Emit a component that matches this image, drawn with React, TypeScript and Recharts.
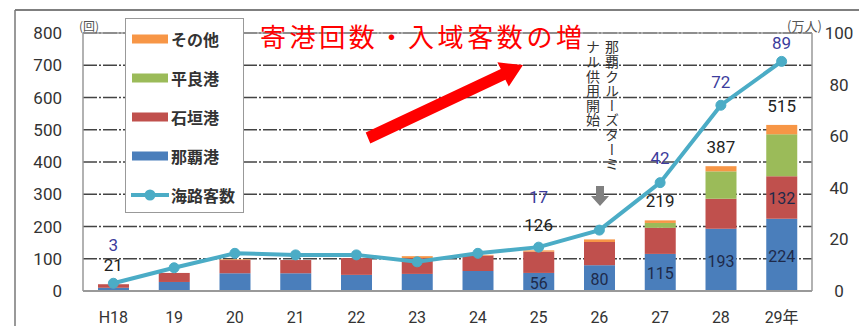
import {
  ComposedChart,
  Bar,
  Line,
  XAxis,
  YAxis,
  CartesianGrid,
  Legend,
  LabelList,
  ReferenceLine,
} from "recharts";

// 寄港回数 (回) by port, 海路客数 (万人)
const YEARS = ["H18", "19", "20", "21", "22", "23", "24", "25", "26", "27", "28", "29年"];
const NAHA = [10, 28, 55, 55, 50, 53, 62, 56, 80, 115, 193, 224];
const ISHIGAKI = [11, 28, 41, 41, 52, 49, 48, 66, 72, 81, 93, 132];
const HIRARA = [0, 0, 0, 0, 0, 0, 0, 0, 0, 15, 85, 130];
const OTHER = [0, 0, 2, 0, 0, 6, 2, 4, 8, 8, 16, 29];
const PASSENGERS = [3, 9, 14.6, 14, 14, 11.3, 14.6, 17, 23.6, 42, 72, 89];

// which values get a printed label
const TOTAL_LABELS = [21, null, null, null, null, null, null, 126, null, 219, 387, 515];
const PASSENGER_LABELS = [3, null, null, null, null, null, null, 17, null, 42, 72, 89];
const NAHA_LABELS = [null, null, null, null, null, null, null, 56, 80, 115, 193, 224];
const ISHIGAKI_LABELS = [null, null, null, null, null, null, null, null, null, null, null, 132];
const HIRARA_LABELS = [null, null, null, null, null, null, null, null, null, null, null, 130];

const LEFT_TICKS = [0, 100, 200, 300, 400, 500, 600, 700, 800];
const RIGHT_TICKS = [0, 20, 40, 60, 80, 100];

const C = {
  naha: "#4a7ebb",
  ishigaki: "#c0504d",
  hirara: "#9bbb59",
  other: "#f79646",
  line: "#4bacc6",
};

const data = YEARS.map((year, i) => ({
  year,
  naha: NAHA[i],
  ishigaki: ISHIGAKI[i],
  hirara: HIRARA[i],
  other: OTHER[i],
  total: NAHA[i] + ISHIGAKI[i] + HIRARA[i] + OTHER[i],
  passengers: PASSENGERS[i],
}));

const LEGEND = [
  { label: "その他", color: C.other, type: "bar" },
  { label: "平良港", color: C.hirara, type: "bar" },
  { label: "石垣港", color: C.ishigaki, type: "bar" },
  { label: "那覇港", color: C.naha, type: "bar" },
  { label: "海路客数", color: C.line, type: "line" },
];

const NUM_FONT = "Roboto, 'Noto Sans CJK JP', sans-serif";
const JP_FONT = "'Noto Sans CJK JP', sans-serif";

// label nudges so they don't collide with each other
const TOTAL_DY: Record<number, number> = { 7: 25 };
const PASS_DY: Record<number, number> = { 0: 38, 7: 50, 9: 25, 10: 23, 11: 18 };

function totalLabel(props: any) {
  const { x, y, index } = props;
  const v = TOTAL_LABELS[index];
  if (v == null) return null;
  const dy = TOTAL_DY[index] ?? 19;
  return (
    <text x={x} y={y - dy} dy="0.355em" textAnchor="middle" fontSize={17} fill="#222" fontFamily={NUM_FONT}>
      {v}
    </text>
  );
}

function passLabel(props: any) {
  const { x, y, index } = props;
  const v = PASSENGER_LABELS[index];
  if (v == null) return null;
  return (
    <text x={x} y={y - (PASS_DY[index] ?? 20)} dy="0.355em" textAnchor="middle" fontSize={17} fill="#3c3c9c" fontFamily={NUM_FONT}>
      {v}
    </text>
  );
}

function insideLabel(labels: (number | null)[]) {
  return (props: any) => {
    const { x, y, width, height, index } = props;
    const v = labels[index];
    if (v == null) return null;
    return (
      <text x={x + width / 2} y={y + height / 2 + 1} dy="0.355em" textAnchor="middle" fontSize={16} fill="#1e2a4a" fontFamily={NUM_FONT}>
        {v}
      </text>
    );
  };
}

function RightTick(props: any) {
  const { x, y, payload } = props;
  return (
    <text x={x + 27} y={y} dy="0.355em" textAnchor="middle" fontSize={17} fill="#333" fontFamily={NUM_FONT}>
      {payload.value}
    </text>
  );
}

function LegendBox() {
  return (
    <div
      style={{
        width: 119,
        height: 195,
        border: "1.5px solid #999",
        background: "#fff",
        boxSizing: "border-box",
      }}
    >
      {LEGEND.map((item) => (
        <div key={item.label} style={{ display: "flex", alignItems: "center", height: 39, paddingLeft: 5 }}>
          <svg width={38} height={14} style={{ flex: "none" }}>
            {item.type === "bar" ? (
              <rect x={1} y={2.5} width={36} height={9} fill={item.color} />
            ) : (
              <g>
                <line x1={0} y1={7} x2={38} y2={7} stroke={item.color} strokeWidth={4} />
                <circle cx={19} cy={7} r={5.5} fill={item.color} />
              </g>
            )}
          </svg>
          <span style={{ fontFamily: JP_FONT, fontSize: 16, fontWeight: 700, color: "#333", marginLeft: 2, whiteSpace: "nowrap" }}>
            {item.label}
          </span>
        </div>
      ))}
    </div>
  );
}

function Overlay() {
  return (
    <svg width={859} height={326} style={{ position: "absolute", left: 0, top: 0, pointerEvents: "none" }}>
      {/* outer frame */}
      <line x1={15} y1={10} x2={859} y2={10} stroke="#555" strokeWidth={1.5} />
      <line x1={15} y1={10} x2={15} y2={326} stroke="#777" strokeWidth={1.5} />
      {/* units */}
      <text x={79} y={31} fontSize={12} fill="#555" fontFamily={JP_FONT}>(回)</text>
      <text x={787} y={31} fontSize={13} fill="#555" fontFamily={JP_FONT}>(万人)</text>
      {/* title */}
      <text x={260} y={47} fontSize={26} fill="#ff0000" fontFamily={JP_FONT} textLength={322} lengthAdjust="spacing">
        寄港回数・入域客数の増
      </text>
      {/* red arrow */}
      <polygon
        points="365.7,132.6 500.8,69 497.4,62.3 523,65 508.8,86.5 505.4,79.8 370.3,143.4"
        fill="#ff0000"
      />
      {/* terminal note */}
      <text x={612} y={40} fontSize={14} fill="#333" fontFamily={JP_FONT} style={{ writingMode: "vertical-rl" }} letterSpacing={0.6}>
        那覇クルーズターミ
      </text>
      <text x={593} y={40} fontSize={14} fill="#333" fontFamily={JP_FONT} style={{ writingMode: "vertical-rl" }} letterSpacing={0.6}>
        ナル供用開始
      </text>
      <polygon points="596,186 604,186 604,196 609,196 600,206 591,196 596,196" fill="#808080" />
    </svg>
  );
}

export default function App() {
  return (
    <div style={{ position: "absolute", left: 0, top: 0, width: 859, height: 326, background: "#fff" }}>
      <ComposedChart width={859} height={326} data={data} margin={{ top: 33, right: 0, bottom: 0, left: 0 }}>
        <CartesianGrid
          horizontal
          vertical={false}
          stroke="#444"
          strokeWidth={1.5}
          strokeDasharray="14 2 2 2"
          yAxisId="left"
        />
        <XAxis
          dataKey="year"
          height={35}
          tickLine={false}
          tickSize={0}
          tickMargin={21}
          axisLine={{ stroke: "#999", strokeWidth: 2 }}
          tick={{ fontSize: 16, fill: "#333", fontFamily: NUM_FONT }}
          interval={0}
        />
        <YAxis
          yAxisId="left"
          width={83}
          domain={[0, 800]}
          ticks={LEFT_TICKS}
          tickLine={false}
          tickSize={0}
          tickMargin={21}
          axisLine={{ stroke: "#999", strokeWidth: 1.5 }}
          tick={{ fontSize: 17, fill: "#333", fontFamily: NUM_FONT }}
          interval={0}
        />
        <YAxis
          yAxisId="right"
          orientation="right"
          width={47}
          domain={[0, 100]}
          ticks={RIGHT_TICKS}
          tickLine={false}
          tickSize={0}
          tickMargin={0}
          axisLine={{ stroke: "#999", strokeWidth: 1.5 }}
          tick={<RightTick />}
          interval={0}
        />
        <ReferenceLine yAxisId="left" y={800} stroke="#999" strokeWidth={1.5} />
        <Legend
          layout="vertical"
          align="center"
          verticalAlign="middle"
          content={<LegendBox />}
          wrapperStyle={{ left: 125, top: 18, width: 119, height: 195 }}
        />
        <Bar yAxisId="left" dataKey="naha" stackId="a" fill={C.naha} barSize={31} isAnimationActive={false}>
          <LabelList content={insideLabel(NAHA_LABELS)} />
        </Bar>
        <Bar yAxisId="left" dataKey="ishigaki" stackId="a" fill={C.ishigaki} barSize={31} isAnimationActive={false}>
          <LabelList content={insideLabel(ISHIGAKI_LABELS)} />
        </Bar>
        <Bar yAxisId="left" dataKey="hirara" stackId="a" fill={C.hirara} barSize={31} isAnimationActive={false}>
          <LabelList content={insideLabel(HIRARA_LABELS)} />
        </Bar>
        <Bar yAxisId="left" dataKey="other" stackId="a" fill={C.other} barSize={31} isAnimationActive={false} />
        <Line
          yAxisId="left"
          dataKey="total"
          stroke="none"
          dot={false}
          activeDot={false}
          legendType="none"
          isAnimationActive={false}
        >
          <LabelList content={totalLabel} />
        </Line>
        <Line
          yAxisId="right"
          dataKey="passengers"
          stroke={C.line}
          strokeWidth={4}
          dot={{ r: 5, fill: C.line, stroke: C.line, strokeWidth: 1 }}
          activeDot={false}
          isAnimationActive={false}
        >
          <LabelList content={passLabel} />
        </Line>
      </ComposedChart>
      <Overlay />
    </div>
  );
}
